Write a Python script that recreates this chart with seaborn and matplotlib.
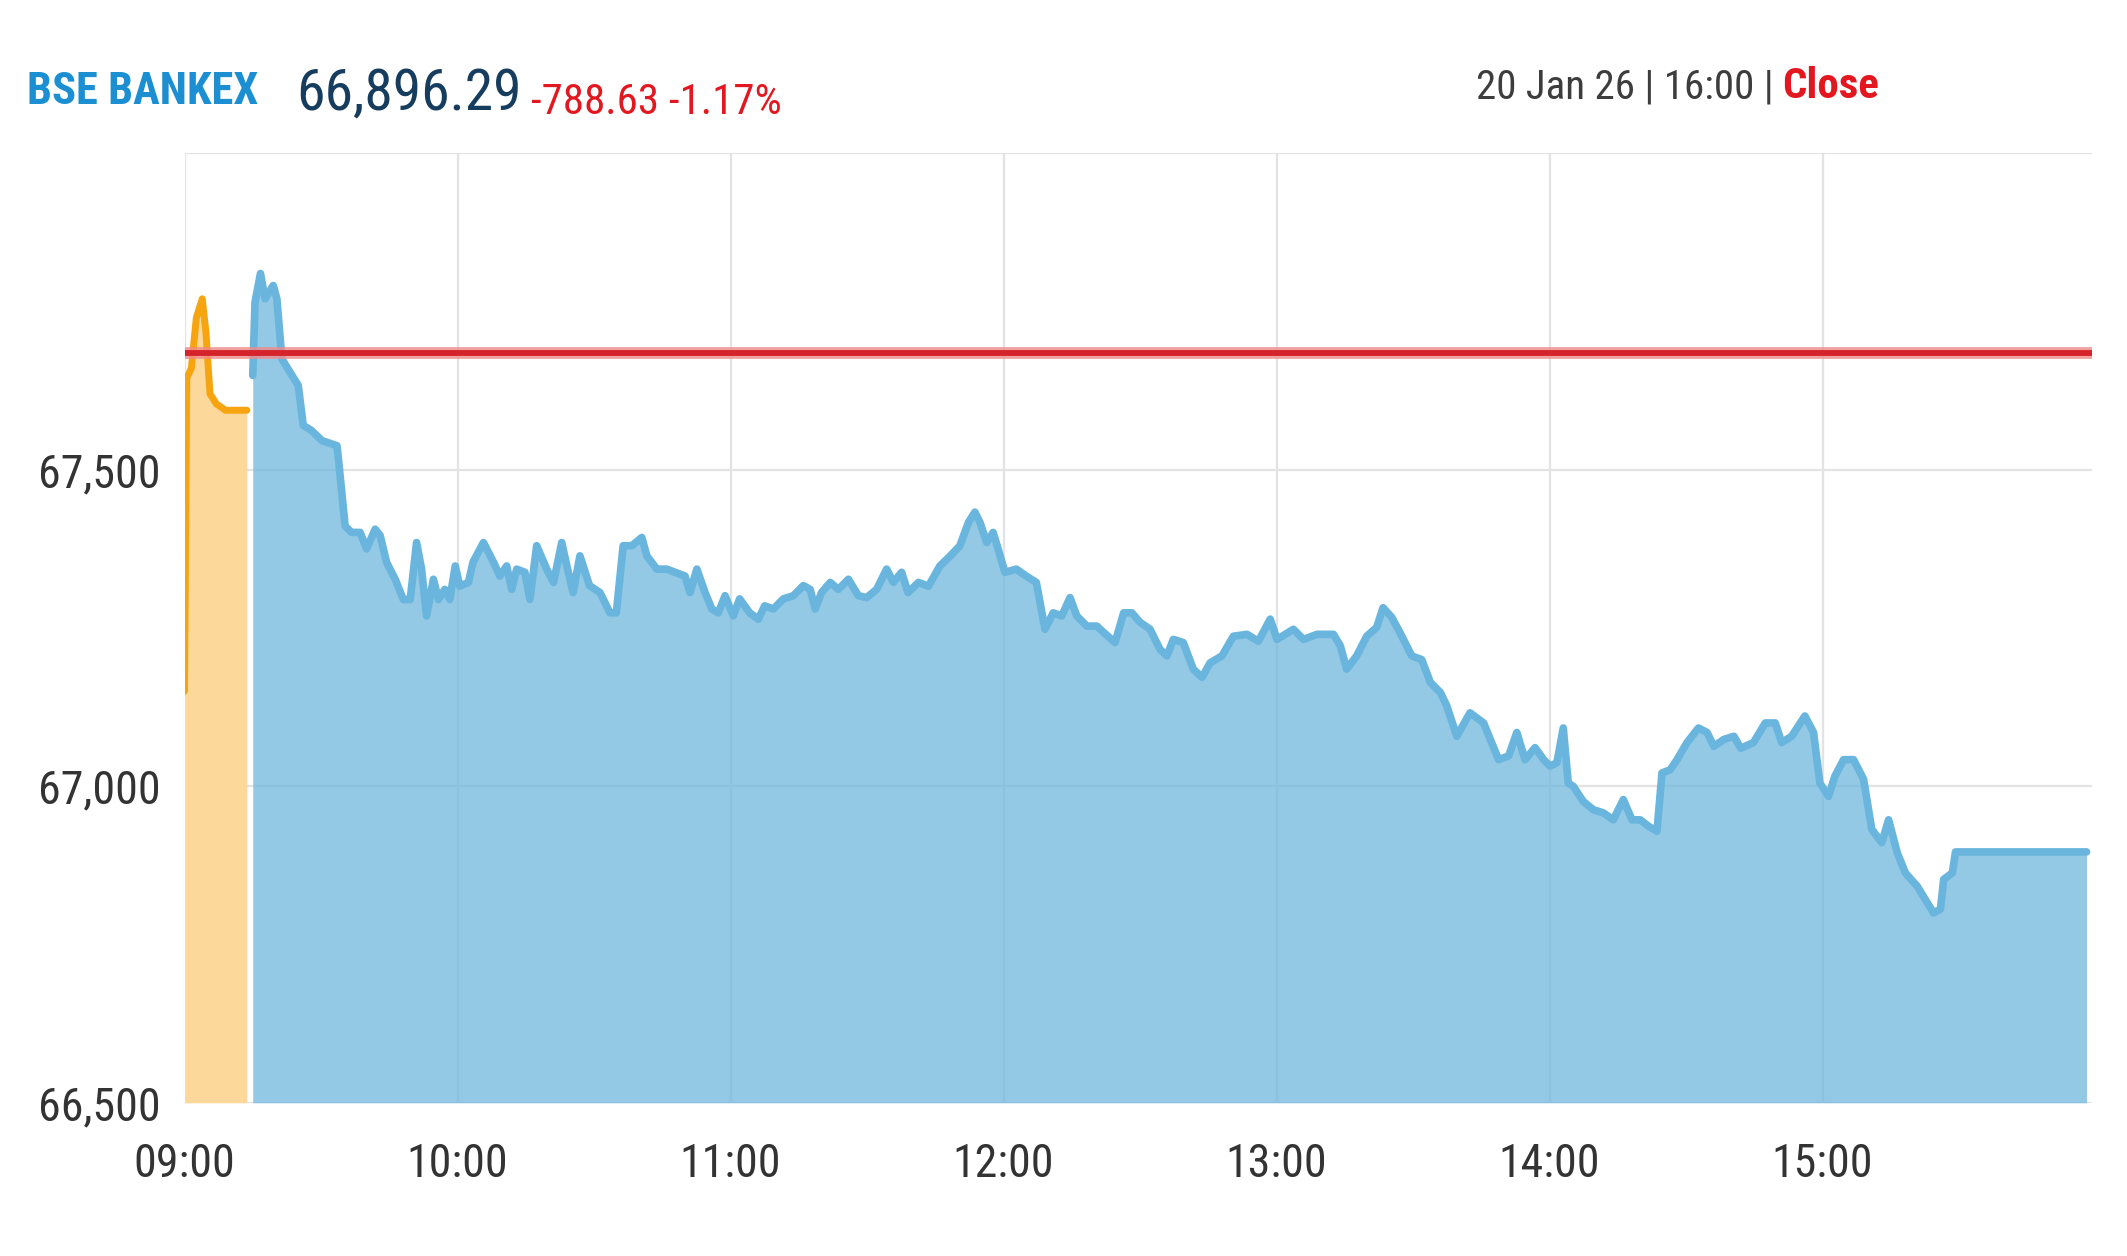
import matplotlib
matplotlib.use("Agg")
import matplotlib.pyplot as plt
from matplotlib import font_manager as fm
import seaborn as sns

# ---------------- data (minutes after 09:00) ----------------
pre_minutes = [0.0, 0.5, 1.5, 2.6, 3.9, 4.7, 5.6, 7.0, 9.0, 13.7]
pre_values = [67150, 67645, 67660, 67740, 67770, 67718, 67620, 67604, 67594, 67594]

minutes = [
    15.0, 15.5, 16.7, 17.7, 19.5, 20.3, 21.4, 23.2, 25.0, 26.1, 27.9, 30.2, 33.5, 33.9,
    35.3, 36.7, 38.6, 40.0, 41.9, 43.0, 44.4, 46.3, 48.1, 49.6, 51.0, 52.1, 53.2, 54.7,
    55.8, 57.2, 58.3, 59.5, 60.5, 62.4, 63.4, 65.7, 67.9, 69.3, 70.8, 71.9, 73.0, 74.8,
    75.9, 77.4, 79.6, 81.1, 82.9, 84.0, 85.4, 86.9, 89.0, 91.3, 93.5, 94.9, 96.4, 98.3,
    100.5, 101.6, 103.8, 106.0, 110.0, 111.1, 112.6, 114.4, 115.9, 117.3, 118.8, 120.6,
    122.0, 124.2, 126.1, 127.5, 129.4, 131.6, 133.8, 136.0, 137.5, 138.6, 140.0, 141.9,
    143.7, 145.9, 148.1, 149.9, 152.1, 154.3, 155.8, 157.6, 159.0, 161.3, 163.5, 166.0,
    168.3, 170.4, 172.3, 173.7, 174.8, 176.3, 177.7, 178.8, 180.3, 182.8, 185.0, 187.2,
    189.1, 190.9, 192.8, 194.6, 196.1, 198.3, 200.5, 202.0, 204.5, 206.4, 208.2, 210.0,
    212.2, 214.4, 215.9, 217.3, 219.5, 221.7, 223.6, 225.4, 228.0, 230.5, 233.5, 236.0,
    238.6, 240.1, 243.7, 245.9, 248.9, 252.5, 254.0, 255.4, 257.6, 259.8, 262.0, 263.4,
    265.3, 267.1, 269.7, 271.9, 273.8, 276.0, 277.4, 279.6, 282.5, 285.5, 288.8, 291.0,
    292.8, 294.6, 296.8, 298.7, 300.1, 301.6, 303.0, 304.1, 305.2, 307.4, 309.6, 311.8,
    314.0, 316.2, 318.1, 319.9, 321.7, 323.6, 324.7, 326.5, 328.0, 330.2, 332.7, 334.6,
    336.1, 338.3, 340.5, 342.0, 344.8, 347.4, 349.6, 351.0, 353.2, 356.1, 358.0, 359.4,
    361.3, 362.7, 364.6, 366.8, 369.0, 370.8, 373.0, 374.5, 376.4, 378.2, 380.8, 383.0,
    384.4, 385.9, 386.6, 388.5, 389.2, 418.0,
]
values = [
    67649, 67765, 67810, 67770, 67791, 67770, 67675, 67654, 67633, 67570, 67562, 67546, 67538, 67512,
    67411, 67401, 67401, 67375, 67406, 67396, 67354, 67327, 67295, 67295, 67385, 67343, 67269, 67327,
    67295, 67311, 67295, 67348, 67316, 67322, 67354, 67385, 67354, 67332, 67348, 67311, 67343, 67338,
    67295, 67380, 67343, 67322, 67385, 67349, 67306, 67364, 67317, 67306, 67274, 67274, 67380, 67380,
    67393, 67364, 67343, 67343, 67332, 67306, 67343, 67306, 67280, 67274, 67301, 67269,
    67296, 67274, 67264, 67285, 67280, 67296, 67301, 67317, 67311, 67280, 67306, 67322,
    67311, 67327, 67301, 67298, 67311, 67343, 67322, 67338, 67306, 67322, 67316, 67348,
    67364, 67380, 67417, 67433, 67417, 67385, 67401, 67375, 67338, 67343, 67332, 67322,
    67248, 67274, 67269, 67298, 67269, 67253, 67253, 67243, 67227, 67274, 67274, 67259,
    67248, 67216, 67206, 67232, 67227, 67185, 67172, 67195, 67206, 67237, 67240, 67229,
    67264, 67232, 67248, 67232, 67240, 67240, 67222, 67185, 67206, 67237, 67251, 67282,
    67267, 67243, 67206, 67200, 67164, 67148, 67127, 67079, 67116, 67100, 67042, 67048,
    67085, 67042, 67061, 67042, 67032, 67037, 67092, 67005, 67000, 66976, 66963, 66958,
    66947, 66979, 66947, 66947, 66937, 66929, 67021, 67026, 67042, 67069, 67092, 67085,
    67063, 67074, 67079, 67060, 67069, 67100, 67100, 67069, 67079, 67111, 67085, 67005,
    66984, 67016, 67042, 67042, 67011, 66932, 66911, 66947, 66895, 66863, 66842, 66816,
    66800, 66806, 66853, 66863, 66896.29, 66896.29,
]

prev_close = 67684.92
y_ticks = [66500, 67000, 67500, 68000]
y_tick_labels = ["66,500", "67,000", "67,500", ""]
x_ticks = [0, 60, 120, 180, 240, 300, 360]
x_tick_labels = ["09:00", "10:00", "11:00", "12:00", "13:00", "14:00", "15:00"]

index_name = "BSE BANKEX"
last_price = "66,896.29"
change_text = "-788.63 -1.17%"
date_text = "20 Jan 26 | 16:00 |"
status_text = "Close"

# ---------------- style ----------------
sns.set_style("white")
names = {f.name for f in fm.fontManager.ttflist}
cond = next((n for n in ["Roboto Condensed", "Liberation Sans Narrow", "Open Sans Condensed"]
             if n in names), "DejaVu Sans")
plt.rcParams["font.family"] = [cond, "DejaVu Sans"]

W, H = 2127, 1256
fig = plt.figure(figsize=(W / 100, H / 100), dpi=100)
fig.patch.set_facecolor("white")
ax = fig.add_axes([184.5 / W, 153.2 / H, (2092 - 184.5) / W, (1102.8 - 153.2) / H])
ax.set_facecolor("white")
ax.set_xlim(0, 419.2)
ax.set_ylim(66500, 68000)

# grid
ax.set_xticks(x_ticks)
ax.set_xticklabels(x_tick_labels)
ax.set_yticks(y_ticks)
ax.set_yticklabels(y_tick_labels)
ax.grid(True, color="#e3e3e3", linewidth=1.6, zorder=0)
ax.set_axisbelow(True)
for s in ax.spines.values():
    s.set_visible(False)
ax.tick_params(axis="both", length=0, labelsize=33, labelcolor="#333333")
ax.tick_params(axis="y", pad=17)
ax.tick_params(axis="x", pad=28)

# pre-open (orange)
ax.fill_between(pre_minutes, pre_values, 66500, color="#fcd89a", linewidth=0, zorder=1)
sns.lineplot(x=pre_minutes, y=pre_values, ax=ax, color="#f6a410", linewidth=5,
             estimator=None, sort=False, zorder=3)

# session (blue)
ax.fill_between(minutes, values, 66500, color="#6fb7db", alpha=0.75, linewidth=0, zorder=1)
sns.lineplot(x=minutes, y=values, ax=ax, color="#6ab5dd", linewidth=5.5,
             estimator=None, sort=False, zorder=3)

# previous close
ax.axhline(prev_close, color="#ef8a8a", linewidth=8.5, alpha=0.8, zorder=4)
ax.axhline(prev_close, color="#d4232a", linewidth=4.2, zorder=5)
ax.set_xlabel("")
ax.set_ylabel("")

# ---------------- header ----------------
fig.canvas.draw()
r = fig.canvas.get_renderer()

def chain(prev, gap_px, txt, **kw):
    bb = prev.get_window_extent(r)
    return fig.text((bb.x1 + gap_px) / W, prev.get_position()[1], txt, va="baseline", **kw)

t1 = fig.text(27 / W, 1 - 104 / H, index_name, fontsize=32, color="#1b8fd2",
              fontweight="bold", va="baseline")
t2 = chain(t1, 38, last_price, fontsize=41.5, color="#173d5e")
t2.set_position((t2.get_position()[0], 1 - 110 / H))
t3 = chain(t2, 9, change_text, fontsize=31, color="#e3171f")
t3.set_position((t3.get_position()[0], 1 - 114 / H))

d1 = fig.text(1476 / W, 1 - 98 / H, date_text, fontsize=29.5, color="#3d3d3d", va="baseline")
d2 = chain(d1, 8, status_text, fontsize=31, color="#e3171f", fontweight="bold")

fig.savefig("out.png", dpi=100, facecolor="white")
